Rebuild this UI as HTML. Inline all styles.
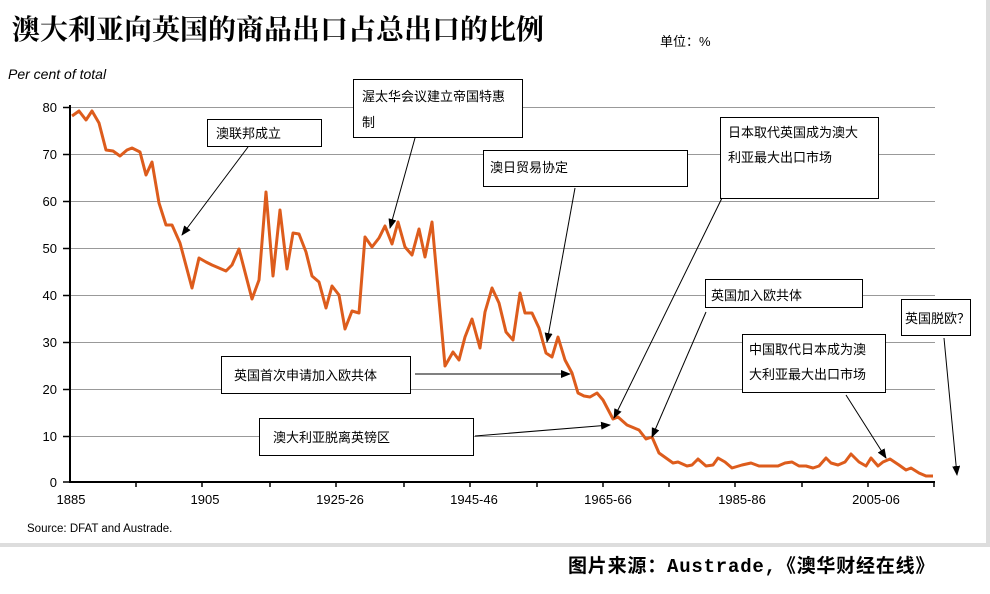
<!DOCTYPE html>
<html><head><meta charset="utf-8"><style>
body{margin:0;background:#fff;width:990px;height:594px;overflow:hidden}
svg{display:block}
text{font-family:"Liberation Sans","Noto Sans CJK SC",sans-serif}
</style></head><body>
<svg width="990" height="594" viewBox="0 0 990 594">
<defs><marker id="a" markerWidth="10" markerHeight="8" refX="9" refY="4" orient="auto" markerUnits="userSpaceOnUse"><path d="M0,0L10,4L0,8z" fill="#000"/></marker></defs>
<rect x="0" y="543" width="990" height="4" fill="#ddd"/>
<rect x="986" y="0" width="4" height="547" fill="#ddd"/>
<text x="12" y="39" font-size="28" font-weight="bold" style="font-family:'Noto Serif CJK SC',serif">澳大利亚向英国的商品出口占总出口的比例</text>
<text x="660" y="46" font-size="13">单位：%</text>
<text x="8" y="79" font-size="14" font-style="italic">Per cent of total</text>
<g stroke="#999" stroke-width="1">
<line x1="71" x2="935" y1="107.5" y2="107.5"/><line x1="71" x2="935" y1="154.5" y2="154.5"/><line x1="71" x2="935" y1="201.5" y2="201.5"/><line x1="71" x2="935" y1="248.5" y2="248.5"/><line x1="71" x2="935" y1="295.5" y2="295.5"/><line x1="71" x2="935" y1="342.5" y2="342.5"/><line x1="71" x2="935" y1="389.5" y2="389.5"/><line x1="71" x2="935" y1="436.5" y2="436.5"/>
</g>
<g font-size="13" text-anchor="end" fill="#000">
<text x="57" y="112">80</text><text x="57" y="159">70</text><text x="57" y="206">60</text><text x="57" y="253">50</text><text x="57" y="300">40</text><text x="57" y="347">30</text><text x="57" y="394">20</text><text x="57" y="441">10</text><text x="57" y="487">0</text>
</g>
<g stroke="#000" stroke-width="2">
<line x1="70" y1="105" x2="70" y2="483"/><line x1="70" y1="482" x2="935" y2="482"/>
<path d="M63,107.5h7M63,154.5h7M63,201.5h7M63,248.5h7M63,295.5h7M63,342.5h7M63,389.5h7M63,436.5h7M63,482h7" stroke-width="1.5"/>
<path d="M136,482v5M202,482v5M270,482v5M336,482v5M404,482v5M470,482v5M537,482v5M603,482v5M669,482v5M735,482v5M802,482v5M868,482v5M934,482v5" stroke-width="1.5"/>
</g>
<g font-size="13" text-anchor="middle">
<text x="71" y="504">1885</text><text x="205" y="504">1905</text><text x="340" y="504">1925-26</text><text x="474" y="504">1945-46</text><text x="608" y="504">1965-66</text><text x="742" y="504">1985-86</text><text x="876" y="504">2005-06</text>
</g>
<text x="27" y="532" font-size="11.5">Source: DFAT and Austrade.</text>
<text x="568" y="572" font-size="19" font-weight="bold" letter-spacing="0.8" style="font-family:'Liberation Mono','Noto Sans CJK SC',monospace">图片来源：Austrade,《澳华财经在线》</text>
<polyline fill="none" stroke="#dd5c1c" stroke-width="3" stroke-linejoin="round" points="72,116 79,111 86,120 92,111 99,123 106,150 113,151 120,156 127,150 132,148 140,152 146,175 152,162 159,203 166,225 172,225 180,243 192,288 199,258 206,262 212,265 226,271 232,265 239,249 252,299 259,280 266,192 273,276 280,210 287,269 293,233 299,234 306,252 312,276 319,282 326,308 332,286 339,295 345,329 352,311 359,313 365,237 372,247 379,238 385,226 392,244 398,222 405,247 412,255 419,229 425,257 432,222 445,366 453,352 459,360 465,337 472,319 480,348 485,312 492,288 499,303 506,332 513,340 520,293 525,313 532,313 539,328 546,353 552,357 558,337 565,360 572,373 578,393 584,396 590,397 597,393 603,400 613,419 618,417 627,425 639,430 646,439 652,437 659,453 673,463 678,462 687,466 692,465 698,459 706,466 713,465 718,458 725,462 732,468 742,465 751,463 759,466 778,466 785,463 792,462 799,466 806,466 813,468 819,466 826,458 831,463 838,465 845,462 851,454 859,462 866,466 871,458 878,466 883,462 890,459 899,465 906,470 911,468 919,473 926,476 933,476"/>
<g fill="#fff" stroke="#000" stroke-width="1">
<rect x="207.5" y="119.5" width="114" height="27"/>
<rect x="353.5" y="79.5" width="169" height="58"/>
<rect x="483.5" y="150.5" width="204" height="36"/>
<rect x="720.5" y="117.5" width="158" height="81"/>
<rect x="705.5" y="279.5" width="157" height="28"/>
<rect x="901.5" y="299.5" width="69" height="36"/>
<rect x="742.5" y="334.5" width="143" height="58"/>
<rect x="221.5" y="356.5" width="189" height="37"/>
<rect x="259.5" y="418.5" width="214" height="37"/>
</g>
<g stroke="#000" stroke-width="1" marker-end="url(#a)">
<line x1="248" y1="147" x2="182" y2="235"/>
<line x1="415" y1="138" x2="390" y2="228"/>
<line x1="575" y1="188" x2="547" y2="342"/>
<line x1="722" y1="198" x2="614" y2="418"/>
<line x1="706" y1="312" x2="652" y2="437"/>
<line x1="944" y1="338" x2="957" y2="475"/>
<line x1="846" y1="395" x2="886" y2="458"/>
<line x1="415" y1="374" x2="570" y2="374"/>
<line x1="475" y1="436" x2="610" y2="425"/>
</g>
<g font-size="13" fill="#000">
<text x="216" y="138">澳联邦成立</text>
<text x="362" y="101">渥太华会议建立帝国特惠</text><text x="362" y="127">制</text>
<text x="490" y="172">澳日贸易协定</text>
<text x="728" y="137">日本取代英国成为澳大</text><text x="728" y="162">利亚最大出口市场</text>
<text x="711" y="300">英国加入欧共体</text>
<text x="905" y="323">英国脱欧？</text>
<text x="749" y="354">中国取代日本成为澳</text><text x="749" y="379">大利亚最大出口市场</text>
<text x="234" y="380">英国首次申请加入欧共体</text>
<text x="273" y="442">澳大利亚脱离英镑区</text>
</g>
</svg>
</body></html>
